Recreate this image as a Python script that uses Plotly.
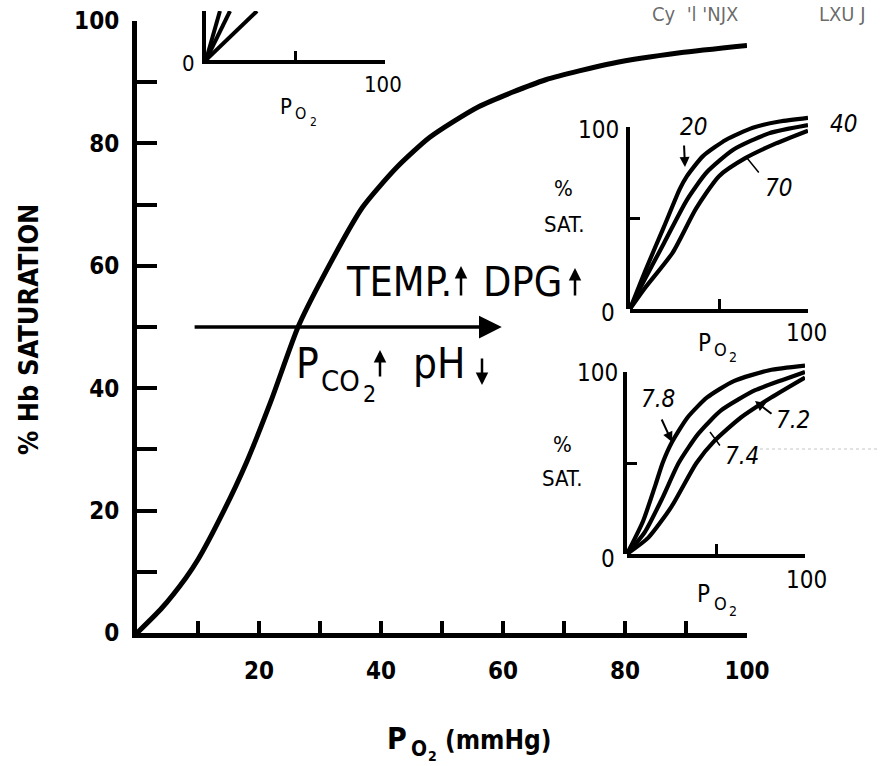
import plotly.graph_objects as go

W, H = 884, 766
FONT = "Liberation Sans Narrow, DejaVu Sans Condensed, Arial Narrow, Liberation Sans, sans-serif"

# ---------------- data ----------------
# main oxyhemoglobin dissociation curve
po2_main = [0, 4, 8, 10, 14, 18, 22, 26.4, 30.5, 37, 42.6, 48, 56, 67, 78, 89, 100]
sat_main = [0, 4, 9, 12, 19.5, 28, 38, 50, 58.2, 69.6, 76.1, 81, 86, 90.4, 93.1, 94.8, 96]
main_xticks = [0, 10, 20, 30, 40, 50, 60, 70, 80, 90, 100]
main_xlabels = ["", "", "20", "", "40", "", "60", "", "80", "", "100"]
main_yticks = [0, 10, 20, 30, 40, 50, 60, 70, 80, 90, 100]
main_ylabels = ["0", "", "20", "", "40", "", "60", "", "80", "", "100"]

# P50 shift arrow (at 50 % saturation)
arrow_from_po2 = 9.2
arrow_to_po2 = 59.8
arrow_sat = 50

# top-left (cut-off) inset: three steep curves
tl_a_x = [0, 7.8];  tl_a_y = [0, 27]
tl_b_x = [0, 13.4]; tl_b_y = [0, 27]
tl_c_x = [0, 28.5]; tl_c_y = [0, 27]

# temperature inset
t20_x = [0, 9, 19, 28, 32, 41, 54, 69, 84, 100]
t20_y = [0, 22, 45, 66, 73, 84, 93, 99.6, 103, 105]
t40_x = [0, 6, 19, 32, 43, 58, 78, 100]
t40_y = [0, 12, 36, 60, 75, 87.5, 96.5, 101]
t70_x = [0, 8, 24, 37, 50, 65, 82, 100]
t70_y = [0, 11, 31, 55, 73, 83, 91, 98]

# pH inset
ph78_x = [0, 9, 16, 20, 25, 34, 45, 60, 80, 100]
ph78_y = [0, 18, 38, 50, 61, 75, 86, 95, 101, 103.5]
ph74_x = [0, 10, 20, 29, 40, 53, 72, 87, 100]
ph74_y = [0, 12, 31, 50, 66, 79, 90, 95.5, 100]
ph72_x = [0, 12, 25, 39, 49, 64, 81, 100]
ph72_y = [0, 9, 26, 50, 62, 75, 86, 97]

inset_ticks = [50, 100]

# ---------------- helpers ----------------
def dom_x(p0, p1):
    return [p0 / W, p1 / W]

def dom_y(p_bottom, p_top):
    return [1 - p_bottom / H, 1 - p_top / H]

ann = []

def txt(text, x, y, size, xanchor="center", style="normal", weight="normal", color="black"):
    ann.append(dict(text=text, x=x / W, y=1 - y / H, xref="paper", yref="paper",
                    showarrow=False, xanchor=xanchor, yanchor="middle",
                    font=dict(family=FONT, size=size, color=color, style=style, weight=weight)))

def arr(x0, y0, x1, y1, width, head=2, size=1.0):
    ann.append(dict(text="", x=x1 / W, y=1 - y1 / H, xref="paper", yref="paper",
                    ax=x0 - x1, ay=y0 - y1, axref="pixel", ayref="pixel",
                    showarrow=True, arrowhead=head, arrowsize=size, arrowwidth=width,
                    arrowcolor="black", standoff=0, startstandoff=0))

fig = go.Figure()

def line_trace(x, y, xa, ya, width):
    fig.add_trace(go.Scatter(x=x, y=y, mode="lines", xaxis=xa, yaxis=ya,
                             line=dict(color="black", width=width, shape="spline", smoothing=0.6),
                             hoverinfo="skip", showlegend=False))

# main
line_trace(po2_main, sat_main, "x", "y", 5)
# top-left inset
for xs, ys in [(tl_a_x, tl_a_y), (tl_b_x, tl_b_y), (tl_c_x, tl_c_y)]:
    fig.add_trace(go.Scatter(x=xs, y=ys, mode="lines", xaxis="x2", yaxis="y2",
                             line=dict(color="black", width=4), hoverinfo="skip", showlegend=False))
# temperature inset
for xs, ys in [(t20_x, t20_y), (t40_x, t40_y), (t70_x, t70_y)]:
    line_trace(xs, ys, "x3", "y3", 4.2)
fig.add_trace(go.Scatter(x=[0], y=[0], mode="lines", xaxis="x3", yaxis="y5",
                         line=dict(width=0), hoverinfo="skip", showlegend=False))
# pH inset
for xs, ys in [(ph78_x, ph78_y), (ph74_x, ph74_y), (ph72_x, ph72_y)]:
    line_trace(xs, ys, "x4", "y4", 4.2)
fig.add_trace(go.Scatter(x=[0], y=[0], mode="lines", xaxis="x4", yaxis="y6",
                         line=dict(width=0), hoverinfo="skip", showlegend=False))

# ---------------- axes ----------------
base = dict(showgrid=False, zeroline=False, showline=True, linecolor="black",
            ticks="inside", tickcolor="black", fixedrange=True, automargin=False)

main_tickfont = dict(family=FONT, size=24, color="black", weight="bold")

layout = dict(
    width=W, height=H, margin=dict(l=0, r=0, t=0, b=0, pad=0, autoexpand=False),
    paper_bgcolor="white", plot_bgcolor="rgba(0,0,0,0)", showlegend=False,
    xaxis=dict(base, domain=dom_x(137, 747), range=[0, 100], anchor="y", linewidth=5,
               tickvals=main_xticks, ticktext=main_xlabels, ticklen=12, tickwidth=4,
               tickfont=main_tickfont, ticklabelstandoff=12),
    yaxis=dict(base, domain=dom_y(633, 21), range=[0, 100], anchor="x", linewidth=5,
               tickvals=main_yticks, ticktext=main_ylabels, ticklen=20, tickwidth=4,
               tickfont=main_tickfont, ticklabelstandoff=8),
    # top-left inset
    xaxis2=dict(base, domain=dom_x(206, 385), range=[0, 100], anchor="y2", linewidth=3.5,
                tickvals=inset_ticks, ticktext=["", ""], ticklen=9, tickwidth=3),
    yaxis2=dict(base, domain=dom_y(60, 11), range=[0, 27], anchor="x2", linewidth=4,
                tickvals=[], showticklabels=False),
    # temperature inset
    xaxis3=dict(base, domain=dom_x(630, 808), range=[0, 100], anchor="y3", linewidth=3.5,
                tickvals=inset_ticks, ticktext=["", ""], ticklen=10, tickwidth=3),
    yaxis3=dict(visible=False, domain=dom_y(309, 309 - 107 * 1.82), range=[0, 107],
                anchor="x3", fixedrange=True, automargin=False),
    yaxis5=dict(base, domain=dom_y(309, 127), range=[0, 100], anchor="x3", linewidth=3.5,
                tickvals=inset_ticks, ticktext=["", ""], ticklen=10, tickwidth=3),
    # pH inset
    xaxis4=dict(base, domain=dom_x(627, 805), range=[0, 100], anchor="y4", linewidth=3.5,
                tickvals=inset_ticks, ticktext=["", ""], ticklen=10, tickwidth=3),
    yaxis4=dict(visible=False, domain=dom_y(554, 554 - 106 * 1.82), range=[0, 106],
                anchor="x4", fixedrange=True, automargin=False),
    yaxis6=dict(base, domain=dom_y(554, 372), range=[0, 100], anchor="x4", linewidth=3.5,
                tickvals=inset_ticks, ticktext=["", ""], ticklen=10, tickwidth=3),
)

# ---------------- text ----------------
# main axis titles
ann.append(dict(text="% Hb SATURATION", x=28 / W, y=1 - 330 / H, xref="paper", yref="paper",
                showarrow=False, textangle=-90, xanchor="center", yanchor="middle",
                font=dict(family=FONT, size=27, color="black", weight="bold")))
txt("P", 397, 738, 30, weight="bold")
txt("O", 419, 749, 21, weight="bold")
txt("2", 432, 756, 14, weight="bold")
txt("(mmHg)", 443, 740, 26, xanchor="left", weight="bold")

# P50 shift arrow
ann.append(dict(text="", x=arrow_to_po2, y=arrow_sat, xref="x", yref="y",
                ax=arrow_from_po2, ay=arrow_sat, axref="x", ayref="y",
                showarrow=True, arrowhead=2, arrowsize=1.3, arrowwidth=3.5,
                arrowcolor="black", standoff=0))

txt("TEMP.", 344, 282, 41, xanchor="left")
arr(461, 297, 461, 266, 2.5, head=2, size=1.0)
txt("DPG", 481, 282, 41, xanchor="left")
arr(575, 297, 575, 268, 2.5, head=2, size=1.0)
txt("P", 294, 364, 42, xanchor="left")
txt("CO", 319, 381, 29, xanchor="left")
txt("2", 361, 394, 23, xanchor="left")
arr(380, 378, 380, 350, 2.5, head=2, size=1.0)
txt("pH", 411, 364, 42, xanchor="left")
arr(482, 357, 482, 385, 2.5, head=2, size=1.0)

# top-left inset labels
txt("0", 188, 64, 22)
txt("100", 383, 84, 22)
txt("P", 286, 106, 22)
txt("O", 300, 114, 16)
txt("2", 313, 122, 12)

# temperature inset labels
txt("100", 598, 130, 24)
txt("0", 608, 313, 24)
txt("100", 806, 333, 24)
txt("%", 563, 188, 22)
txt("SAT.", 564, 225, 22)
txt("P", 704, 343, 24)
txt("O", 720, 350, 18)
txt("2", 733, 357, 14)
txt("20", 693, 127, 24, style="italic")
arr(684, 144, 685, 167, 2, head=2, size=1.0)
txt("40", 843, 124, 24, style="italic")
txt("70", 778, 188, 24, style="italic")
arr(760, 174, 747, 158, 1.5, head=0)

# pH inset labels
txt("100", 597, 373, 24)
txt("0", 608, 559, 24)
txt("100", 806, 580, 24)
txt("%", 562, 444, 22)
txt("SAT.", 562, 478, 22)
txt("P", 703, 594, 24)
txt("O", 720, 603, 18)
txt("2", 733, 611, 14)
txt("7.8", 658, 399, 24, style="italic")
arr(661, 418, 672, 442, 2, head=2, size=1.0)
txt("7.2", 793, 420, 24, style="italic")
arr(773, 415, 755, 401, 2, head=2, size=1.0)
txt("7.4", 742, 456, 24, style="italic")
arr(721, 447, 710, 432, 1.5, head=0)

# faint scan residue at top right
txt("Cy  'l 'NJX", 695, 14, 20, color="rgba(40,40,40,0.7)")
txt("LXU J", 842, 14, 20, color="rgba(40,40,40,0.7)")

layout["annotations"] = ann
layout["shapes"] = [dict(type="line", xref="paper", yref="paper", x0=760 / W, x1=880 / W,
                         y0=1 - 449 / H, y1=1 - 449 / H,
                         line=dict(color="rgba(180,180,180,0.5)", width=1.5, dash="dot"))]

fig.update_layout(layout)
fig.write_html("out.html")
